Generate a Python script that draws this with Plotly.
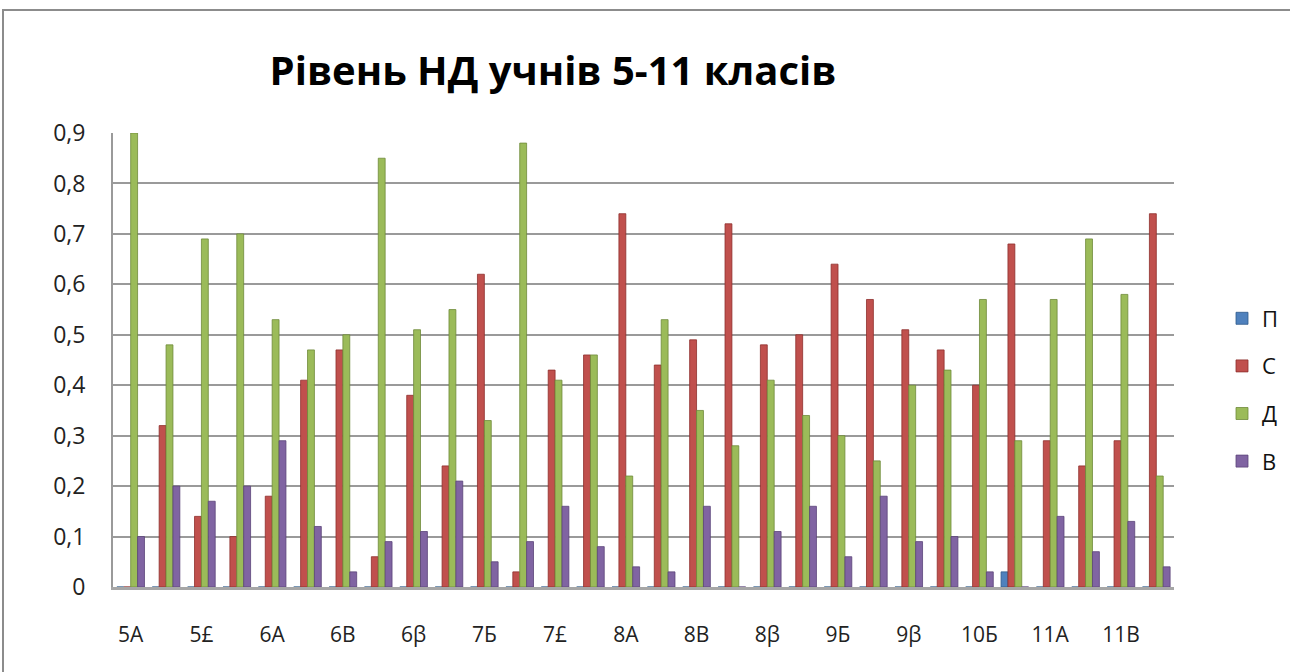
import plotly.graph_objects as go

categories = ["5A", "5Б", "5£", "5β", "6A", "6Б", "6B", "6£", "6β", "7A",
              "7Б", "7B", "7£", "7β", "8A", "8Б", "8B", "8£", "8β", "9A",
              "9Б", "9B", "9β", "10A", "10Б", "10B", "11A", "11Б", "11B", "11£"]
tick_labels = categories[::2]

series_names = ["П", "С", "Д", "В"]
p_vals = [0, 0, 0, 0, 0, 0, 0, 0, 0, 0,
          0, 0, 0, 0, 0, 0, 0, 0, 0, 0,
          0, 0, 0, 0, 0, 0.03, 0, 0, 0, 0]
s_vals = [0, 0.32, 0.14, 0.10, 0.18, 0.41, 0.47, 0.06, 0.38, 0.24,
          0.62, 0.03, 0.43, 0.46, 0.74, 0.44, 0.49, 0.72, 0.48, 0.50,
          0.64, 0.57, 0.51, 0.47, 0.40, 0.68, 0.29, 0.24, 0.29, 0.74]
d_vals = [0.90, 0.48, 0.69, 0.70, 0.53, 0.47, 0.50, 0.85, 0.51, 0.55,
          0.33, 0.88, 0.41, 0.46, 0.22, 0.53, 0.35, 0.28, 0.41, 0.34,
          0.30, 0.25, 0.40, 0.43, 0.57, 0.29, 0.57, 0.69, 0.58, 0.22]
v_vals = [0.10, 0.20, 0.17, 0.20, 0.29, 0.12, 0.03, 0.09, 0.11, 0.21,
          0.05, 0.09, 0.16, 0.08, 0.04, 0.03, 0.16, 0, 0.11, 0.16,
          0.06, 0.18, 0.09, 0.10, 0.03, 0, 0.14, 0.07, 0.13, 0.04]
y_ticks = [0, 0.1, 0.2, 0.3, 0.4, 0.5, 0.6, 0.7, 0.8, 0.9]

colors = ["#4F81BD", "#C0504D", "#9BBB59", "#8064A2"]
edges = ["#2F5A8A", "#8E2F2C", "#6E8A3A", "#5A4478"]
values = [p_vals, s_vals, d_vals, v_vals]

FONT = "Open Sans, Lato, sans-serif"

fig = go.Figure()
for i, (name, vals) in enumerate(zip(series_names, values)):
    fig.add_trace(go.Bar(
        x=categories, y=vals, name=name,
        marker=dict(color=colors[i], line=dict(color=edges[i], width=0.8)),
        legendgroup=name,
    ))

W, H = 1290, 672
L, R, T, B = 113, 116, 133, 85
pw, ph = W - L - R, H - T - B

def px(x):
    return (x - L) / pw

def py(y):
    return (H - B - y) / ph

fig.update_layout(
    width=W, height=H,
    margin=dict(l=L, r=R, t=T, b=B, autoexpand=False),
    paper_bgcolor="white", plot_bgcolor="white",
    separators=", ",
    barmode="group", bargap=0.22, bargroupgap=0.0,
    font=dict(family=FONT, size=22, color="#222222"),
    title=dict(text="<b>Рівень НД учнів 5-11 класів</b>",
               x=553 / W, xanchor="center", xref="container",
               y=1 - 71 / H, yanchor="middle", yref="container",
               font=dict(family=FONT, size=40, color="#000000")),
    showlegend=True,
    legend=dict(x=px(1222), xanchor="left", y=py(390), yanchor="middle",
                font=dict(family=FONT, size=22, color="#111111"),
                tracegroupgap=16, bgcolor="rgba(0,0,0,0)"),
    xaxis=dict(tickmode="array", tickvals=tick_labels, ticktext=tick_labels,
               showgrid=False, ticks="", showline=True, linecolor="#A6A6A6",
               linewidth=3, ticklabelstandoff=27,
               tickfont=dict(family=FONT, size=21, color="#222222")),
    yaxis=dict(range=[0, 0.9], tickvals=y_ticks, tickformat=".1~f",
               showgrid=True, gridcolor="#9A9A9A", gridwidth=2,
               showline=True, linecolor="#9A9A9A", linewidth=2,
               zeroline=False, ticks="", ticklabelstandoff=21,
               tickfont=dict(family=FONT, size=23, color="#222222")),
    shapes=[dict(type="rect", xref="paper", yref="paper",
                 x0=px(3), x1=px(1300), y0=py(700), y1=py(10),
                 line=dict(color="#8C8C8C", width=2), fillcolor="rgba(0,0,0,0)",
                 layer="below")],
)

fig.write_html("out.html", config={"displayModeBar": False},
               post_script="document.body.style.margin='0px';")
